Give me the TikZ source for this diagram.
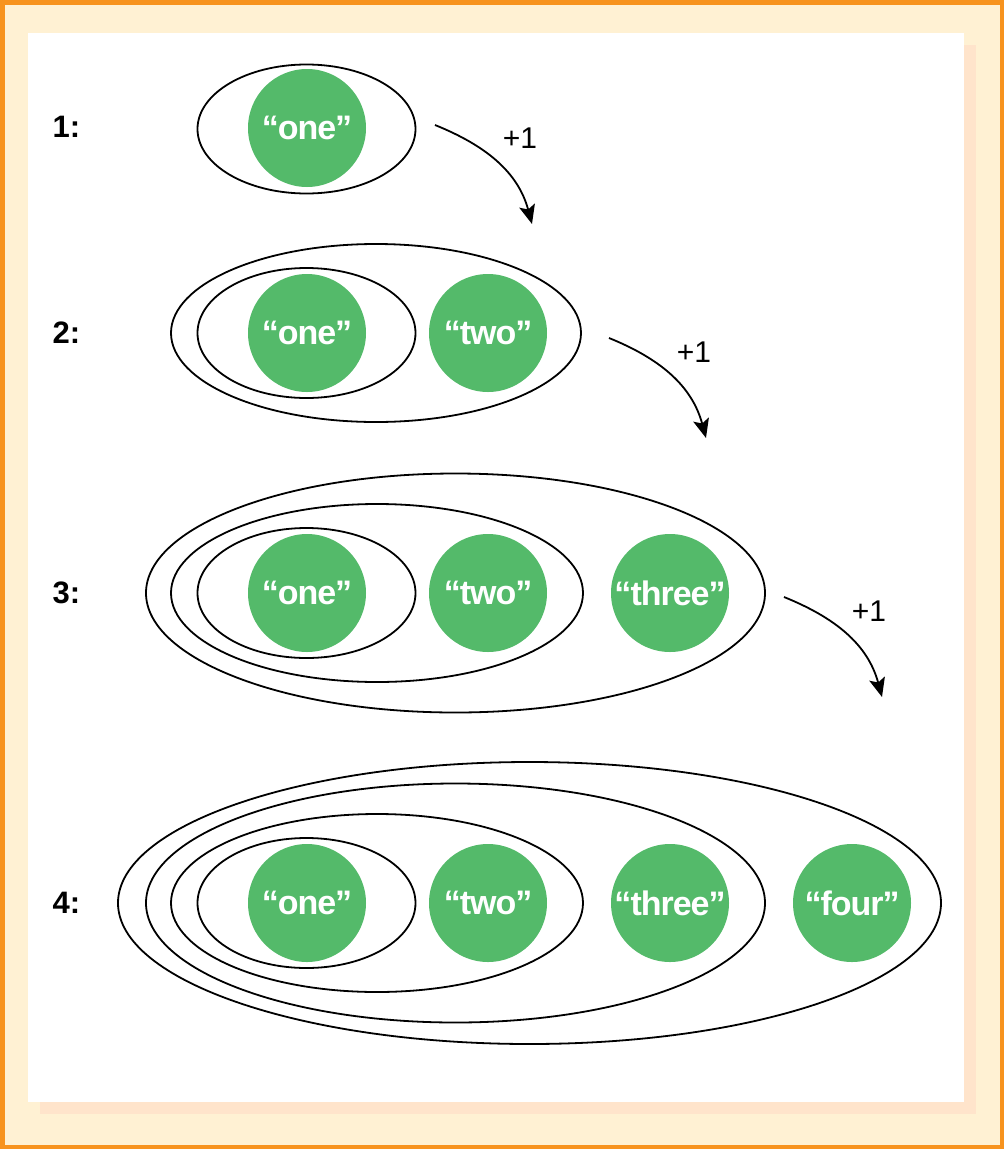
\documentclass[tikz,border=0pt]{standalone}
\usepackage{fontspec}
\setmainfont{Liberation Sans}
\newfontfamily\ballfont[LetterSpace=-3.0]{Liberation Sans}
\usetikzlibrary{shapes.geometric,arrows.meta}
\definecolor{frameorange}{HTML}{F7931E}
\definecolor{cream}{HTML}{FFF1D3}
\definecolor{peach}{HTML}{FFE4CB}
\definecolor{ballgreen}{HTML}{54BA6A}
\tikzset{
  ring/.style={draw, ellipse, line width=1.8pt, inner sep=0pt, outer sep=0pt},
  ball/.style={circle, fill=ballgreen, minimum size=118pt, inner sep=0pt, text=white,
    font=\ballfont\fontsize{34}{34}\selectfont\bfseries},
  rowlabel/.style={font=\fontsize{31}{31}\selectfont\bfseries, inner sep=0pt},
  inclabel/.style={font=\fontsize{30}{30}\selectfont, inner sep=0pt},
  incarrow/.style={line width=1.8pt, -{Stealth[length=19pt,width=16pt,inset=4pt]}, out=-22, in=105}
}
\begin{document}
\begin{tikzpicture}[x=1pt,y=-1pt]
\useasboundingbox (0,0) rectangle (1004,1149);
% background and frame
\fill[cream] (0,0) rectangle (1004,1149);
\draw[frameorange, line width=4.5pt] (2.25,2.25) rectangle (1001.75,1146.75);
\fill[peach] (40,45) rectangle (976,1114);
\fill[white] (28,33) rectangle (964,1102);

% row labels
\node[rowlabel] (l1) at (66.5,127) {1:};
\node[rowlabel] (l2) at (66.5,333) {2:};
\node[rowlabel] (l3) at (66.5,593) {3:};
\node[rowlabel] (l4) at (66.5,903) {4:};

% row 1
\node[ring, minimum width=218pt, minimum height=129pt] (r1a) at (306.5,129) {};
\node[ball] (b1a) at (307,128) {“one”};

% row 2
\node[ring, minimum width=218pt, minimum height=130pt] (r2a) at (306.5,333) {};
\node[ring, minimum width=410pt, minimum height=178pt] (r2b) at (376,333) {};
\node[ball] (b2a) at (307,333) {“one”};
\node[ball] (b2b) at (488,333) {“two”};

% row 3
\node[ring, minimum width=218pt, minimum height=130pt] (r3a) at (306.5,593) {};
\node[ring, minimum width=412pt, minimum height=178pt] (r3b) at (377,593) {};
\node[ring, minimum width=619pt, minimum height=239pt] (r3c) at (455.5,593) {};
\node[ball] (b3a) at (307,593) {“one”};
\node[ball] (b3b) at (488,593) {“two”};
\node[ball] (b3c) at (670,593) {“three”};

% row 4
\node[ring, minimum width=218pt, minimum height=130pt] (r4a) at (306.5,903) {};
\node[ring, minimum width=412pt, minimum height=178pt] (r4b) at (377,903) {};
\node[ring, minimum width=619pt, minimum height=239pt] (r4c) at (455.5,903) {};
\node[ring, minimum width=823pt, minimum height=282pt] (r4d) at (529.5,903) {};
\node[ball] (b4a) at (307,903) {“one”};
\node[ball] (b4b) at (488,903) {“two”};
\node[ball] (b4c) at (670,903) {“three”};
\node[ball] (b4d) at (852,903) {“four”};

% increment arrows
\coordinate (s1) at (435,125);
\coordinate (e1) at (532,224);
\coordinate (s2) at (609,338);
\coordinate (e2) at (706,438);
\coordinate (s3) at (784,597);
\coordinate (e3) at (882,697);
\draw[incarrow] (s1) to (e1);
\draw[incarrow] (s2) to (e2);
\draw[incarrow] (s3) to (e3);
\node[inclabel] (p1) at (520,138.5) {+1};
\node[inclabel] (p2) at (694,352.5) {+1};
\node[inclabel] (p3) at (869,611.5) {+1};
\end{tikzpicture}
\end{document}
